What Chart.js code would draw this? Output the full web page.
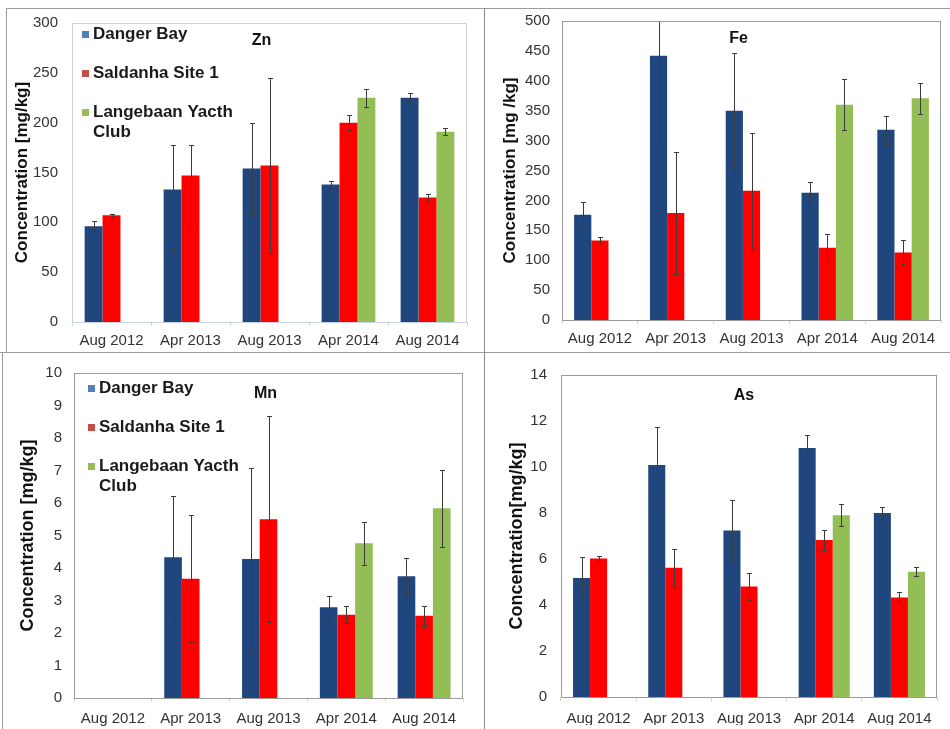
<!DOCTYPE html>
<html>
<head>
<meta charset="utf-8">
<script src="https://cdn.jsdelivr.net/npm/chart.js@4.4.0/dist/chart.umd.min.js"></script>
<style>
  body { margin: 0; background: #fff; }
  #page { position: relative; width: 950px; height: 729px; overflow: hidden; background: #fff; }
  #page canvas { position: absolute; }
  .rule { position: absolute; background: #9c9c9c; }
</style>
</head>
<body>
<div id="page">
  <canvas id="znChart" width="482" height="350" style="left:0;top:0"></canvas>
  <canvas id="feChart" width="466" height="350" style="left:484px;top:0"></canvas>
  <canvas id="mnChart" width="482" height="377" style="left:0;top:352px"></canvas>
  <canvas id="asChart" width="466" height="377" style="left:484px;top:352px"></canvas>
  <div class="rule" style="left:6px;top:8px;width:944px;height:1px"></div>
  <div class="rule" style="left:6px;top:8px;width:1px;height:344px"></div>
  <div class="rule" style="left:2px;top:352px;width:1px;height:377px"></div>
  <div class="rule" style="left:0;top:352px;width:950px;height:1px"></div>
  <div class="rule" style="left:484px;top:8px;width:1px;height:721px;background:#8a8a8a"></div>
</div>
<script>
const dates = ['Aug 2012', 'Apr 2013', 'Aug 2013', 'Apr 2014', 'Aug 2014'];
const sites = ['Danger Bay', 'Saldanha Site 1', 'Langebaan Yacth Club'];

// Zn [mg/kg]; error = +/- value, or [minus, plus]
const znDanger = [96, 133, 154, 138, 225];
const znSaldanha = [107, 147, 157, 200, 125];
const znLangebaan = [null, null, null, 225, 191];
const znDangerErr = [5, [61, 45], 46, 3.5, 5];
const znSaldanhaErr = [1.5, [54, 31], 88, 7.5, 3.5];
const znLangebaanErr = [null, null, null, 9, 3.5];

// Fe
const feDanger = [176, 442, 350, 213, 318];
const feSaldanha = [133, 179, 216, 121, 113];
const feLangebaan = [null, null, null, 360, 371];
const feDangerErr = [22, 152, 97, 18, 23];
const feSaldanhaErr = [5, 102, 97, 23, 20];
const feLangebaanErr = [null, null, null, 43, 26];

// Mn
const mnDanger = [null, 4.33, 4.28, 2.79, 3.75];
const mnSaldanha = [null, 3.67, 5.5, 2.56, 2.53];
const mnLangebaan = [null, null, null, 4.76, 5.84];
const mnDangerErr = [null, 1.9, 2.8, 0.34, 0.55];
const mnSaldanhaErr = [null, 1.95, 3.17, 0.26, 0.3];
const mnLangebaanErr = [null, null, null, 0.67, 1.18];

// As
const asDanger = [5.17, 10.09, 7.24, 10.83, 8.0];
const asSaldanha = [6.02, 5.62, 4.8, 6.83, 4.33];
const asLangebaan = [null, null, null, 7.9, 5.45];
const asDangerErr = [0.9, 1.63, 1.34, 0.55, 0.26];
const asSaldanhaErr = [0.12, 0.83, 0.57, 0.43, 0.23];
const asLangebaanErr = [null, null, null, 0.47, 0.2];

const barColors = ['#1F467D', '#FF0000', '#93BD55'];
const legendColors = ['#4F81BD', '#C0504D', '#9BBB59'];

// error bars, drawn through the y scale
const errorBars = {
  id: 'errorBars',
  afterDatasetsDraw(chart) {
    const ctx = chart.ctx, y = chart.scales.y, a = chart.chartArea;
    ctx.save();
    ctx.beginPath();
    ctx.rect(a.left, a.top, a.right - a.left, a.bottom - a.top);
    ctx.clip();
    ctx.strokeStyle = '#3c3c3c';
    ctx.lineWidth = 1;
    chart.data.datasets.forEach((ds, i) => {
      chart.getDatasetMeta(i).data.forEach((bar, j) => {
        const v = ds.data[j], e = ds.errors[j];
        if (v == null || e == null) return;
        const minus = Array.isArray(e) ? e[0] : e;
        const plus = Array.isArray(e) ? e[1] : e;
        const x = Math.round(bar.x) + 0.5;
        const top = Math.round(y.getPixelForValue(v + plus)) + 0.5;
        const bot = Math.round(y.getPixelForValue(v - minus)) + 0.5;
        ctx.beginPath();
        ctx.moveTo(x, top); ctx.lineTo(x, bot);
        ctx.moveTo(x - 2.5, top); ctx.lineTo(x + 2.5, top);
        ctx.moveTo(x - 2.5, bot); ctx.lineTo(x + 2.5, bot);
        ctx.stroke();
      });
    });
    ctx.restore();
  }
};

function wrapText(ctx, text, maxWidth) {
  const words = text.split(' ');
  const lines = [];
  let line = '';
  words.forEach(w => {
    const test = line ? line + ' ' + w : w;
    if (line && ctx.measureText(test).width > maxWidth) { lines.push(line); line = w; }
    else line = test;
  });
  lines.push(line);
  return lines;
}

// plot frame, inner title and inner legend
const panelDecor = {
  id: 'panelDecor',
  afterDraw(chart, args, opts) {
    const ctx = chart.ctx, a = chart.chartArea;
    ctx.save();
    ctx.strokeStyle = opts.frameColor;
    ctx.lineWidth = 1;
    ctx.strokeRect(Math.round(a.left) + 0.5, Math.round(a.top) + 0.5,
      Math.round(a.right - a.left) - 1, Math.round(a.bottom - a.top));
    ctx.fillStyle = '#111';
    ctx.font = 'bold 16px Arial';
    ctx.textAlign = 'center';
    ctx.textBaseline = 'middle';
    ctx.fillText(opts.title, (a.left + a.right) / 2 + opts.titleDx, a.top + opts.titleDy);
    if (opts.legend) {
      ctx.textAlign = 'left';
      ctx.font = 'bold 17px Arial';
      let y = a.top + opts.legendDy;
      chart.data.datasets.forEach((ds, i) => {
        ctx.fillStyle = legendColors[i];
        ctx.fillRect(a.left + opts.legendDx, y - 3, 7, 7);
        ctx.fillStyle = '#1a1a1a';
        const lines = wrapText(ctx, ds.label, 150);
        lines.forEach((ln, k) => ctx.fillText(ln, a.left + opts.legendDx + 11, y + k * 20));
        y += 39;
      });
    }
    ctx.restore();
  }
};

function makeChart(id, series, errors, yMax, yStep, p) {
  const ctx = document.getElementById(id).getContext('2d');
  return new Chart(ctx, {
    type: 'bar',
    data: {
      labels: dates,
      datasets: series.map((s, i) => ({
        label: sites[i],
        data: s,
        errors: errors[i],
        backgroundColor: barColors[i],
        borderWidth: 0,
        barPercentage: 1,
        categoryPercentage: 0.68
      }))
    },
    options: {
      responsive: false,
      animation: false,
      layout: { padding: { left: p.padL, top: p.padT, right: p.padR, bottom: p.padB } },
      plugins: {
        legend: { display: false },
        tooltip: { enabled: false },
        panelDecor: {
          frameColor: p.frameColor, title: p.title, titleDx: p.titleDx, titleDy: p.titleDy,
          legend: p.legend, legendDx: p.legendDx, legendDy: p.legendDy
        }
      },
      scales: {
        x: {
          grid: { display: true, offset: true, drawOnChartArea: false, drawTicks: true, tickLength: 4, color: '#d4d4d4' },
          border: { display: false },
          ticks: { color: '#333', font: { family: 'Arial', size: 15 }, padding: p.xPad, maxRotation: 0, autoSkip: false },
          afterFit(s) { s.height = 28; }
        },
        y: {
          min: 0,
          max: yMax,
          grid: { display: false, drawTicks: false },
          border: { display: false },
          ticks: { stepSize: yStep, color: '#333', font: { family: 'Arial', size: 15 }, padding: p.yPad },
          title: { display: true, text: p.yTitle, color: '#111', font: { family: 'Arial', size: p.yTitleSize, weight: 'bold' } },
          afterFit(s) { s.width = p.yWidth; }
        }
      }
    },
    plugins: [errorBars, panelDecor]
  });
}

makeChart('znChart', [znDanger, znSaldanha, znLangebaan], [znDangerErr, znSaldanhaErr, znLangebaanErr], 300, 50, {
  padL: 8, padT: 19, padR: 15, padB: 0, yWidth: 64, yPad: 14, xPad: 6,
  yTitle: 'Concentration [mg/kg]', yTitleSize: 17, frameColor: '#c9d2e2',
  title: 'Zn', titleDx: -8, titleDy: 18, legend: true, legendDx: 10, legendDy: 11
});
makeChart('feChart', [feDanger, feSaldanha, feLangebaan], [feDangerErr, feSaldanhaErr, feLangebaanErr], 500, 50, {
  padL: 12, padT: 21, padR: 9, padB: 2, yWidth: 66, yPad: 12, xPad: 6,
  yTitle: 'Concentration [mg /kg]', yTitleSize: 17, frameColor: '#9a9a9a',
  title: 'Fe', titleDx: -13, titleDy: 18, legend: false
});
makeChart('mnChart', [mnDanger, mnSaldanha, mnLangebaan], [mnDangerErr, mnSaldanhaErr, mnLangebaanErr], 10, 1, {
  padL: 13, padT: 15, padR: 19, padB: 3, yWidth: 61, yPad: 12, xPad: 8,
  yTitle: 'Concentration [mg/kg]', yTitleSize: 18, frameColor: '#9a9a9a',
  title: 'Mn', titleDx: -3, titleDy: 21, legend: true, legendDx: 14, legendDy: 15
});
makeChart('asChart', [asDanger, asSaldanha, asLangebaan], [asDangerErr, asSaldanhaErr, asLangebaanErr], 14, 2, {
  padL: 18, padT: 15, padR: 13, padB: 4, yWidth: 59, yPad: 14, xPad: 9,
  yTitle: 'Concentration[mg/kg]', yTitleSize: 18, frameColor: '#9a9a9a',
  title: 'As', titleDx: -5, titleDy: 21, legend: false
});
</script>
</body>
</html>
